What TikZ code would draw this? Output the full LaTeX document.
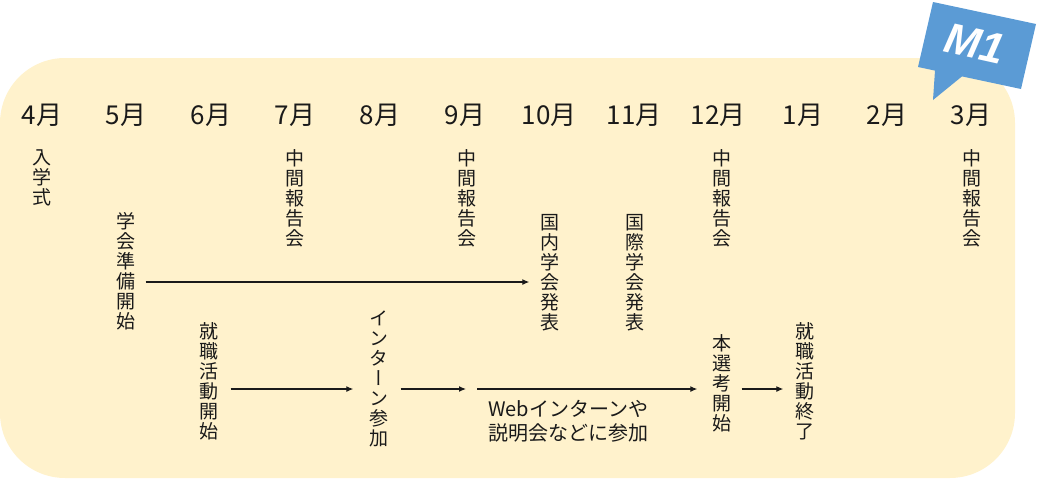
\documentclass[tikz,border=0pt]{standalone}
\usepackage{fontspec}
\setmainfont{Noto Sans CJK JP}
\newfontfamily\vfont[RawFeature=+vert]{Noto Sans CJK JP}
\newfontfamily\mfont{Liberation Sans}
\usetikzlibrary{arrows.meta}
\definecolor{bg}{HTML}{FFF2CC}
\definecolor{bub}{HTML}{5B9BD5}
\definecolor{ink}{HTML}{1A1A1A}
\begin{document}
\begin{tikzpicture}[x=1pt,y=-1pt,
  month/.style={font=\fontsize{26}{28}\selectfont, text=ink, inner sep=0pt},
  vtext/.style={font=\vfont\fontsize{19}{20}\selectfont, align=center, inner sep=0pt, anchor=north, text=ink},
  htext/.style={font=\fontsize{20}{24.5}\selectfont, align=center, inner sep=0pt, anchor=north, text=ink},
  arr/.style={-{Latex[length=7pt,width=6pt]}, line width=1.2pt, draw=ink},
  bubble/.style={fill=bub},
  bubtext/.style={font=\mfont\bfseries\itshape\fontsize{43}{45}\selectfont, text=white, inner sep=0pt, rotate=-12.5},
]
\useasboundingbox (0,0) rectangle (1037,479);
\fill[bg, rounded corners=65pt] (0,58) rectangle (1015,478);

% speech bubble
\fill[bubble] (933,2) -- (918,67) -- (935,70.6) -- (933,100) -- (962,76.4) -- (1021,89) -- (1036,24) -- cycle;
\node[bubtext] (m1) at (975,44) {M1};

% months
\node[month] (m4) at (42,115) {4月};
\node[month] (m5) at (126,115) {5月};
\node[month] (m6) at (211,115) {6月};
\node[month] (m7) at (295,115) {7月};
\node[month] (m8) at (380,115) {8月};
\node[month] (m9) at (465,115) {9月};
\node[month] (m10) at (549,115) {10月};
\node[month] (m11) at (634,115) {11月};
\node[month] (m12) at (718,115) {12月};
\node[month] (m1m) at (803,115) {1月};
\node[month] (m2) at (887,115) {2月};
\node[month] (m3) at (971,115) {3月};

% vertical texts
\node[vtext] (nyu) at (42,149) {入\\学\\式};
\node[vtext] (chu7) at (295,149) {中\\間\\報\\告\\会};
\node[vtext] (chu9) at (467,149) {中\\間\\報\\告\\会};
\node[vtext] (chu12) at (722,149) {中\\間\\報\\告\\会};
\node[vtext] (chu3) at (972,149) {中\\間\\報\\告\\会};
\node[vtext] (gakkai) at (126,212) {学\\会\\準\\備\\開\\始};
\node[vtext] (kokunai) at (550,214) {国\\内\\学\\会\\発\\表};
\node[vtext] (kokusai) at (635,214) {国\\際\\学\\会\\発\\表};
\node[vtext] (shushoku) at (209,322) {就\\職\\活\\動\\開\\始};
\node[vtext] (intern) at (379,311) {イ\\ン\\タ\\ー\\ン\\参\\加};
\node[vtext] (honsenko) at (722,334) {本\\選\\考\\開\\始};
\node[vtext] (shuryo) at (805,322) {就\\職\\活\\動\\終\\了};
\node[htext] (web) at (568,400) {Webインターンや\\説明会などに参加};

% connectors
\coordinate (g1) at (0,282);
\coordinate (w0) at (0,389);
\coordinate (w1) at (466,389);
\coordinate (w2) at (477,389);
\draw[arr] ([xshift=10pt]gakkai.east |- g1) -- ([xshift=-11pt]kokunai.west |- g1);
\draw[arr] ([xshift=12pt]shushoku.east |- w0) -- ([xshift=-16pt]intern.west |- w0);
\draw[arr] ([xshift=12pt]intern.east |- w1) -- (w1);
\draw[arr] (w2) -- ([xshift=-15pt]honsenko.west |- w2);
\draw[arr] ([xshift=10pt]honsenko.east |- w2) -- ([xshift=-12pt]shuryo.west |- w2);
\end{tikzpicture}
\end{document}
